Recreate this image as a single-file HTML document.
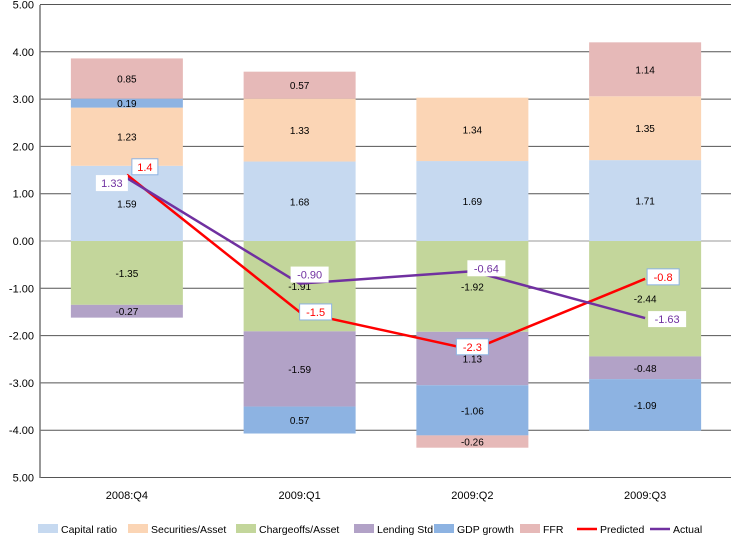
<!DOCTYPE html>
<html><head><meta charset="utf-8"><style>
body{margin:0;background:#fff;}
svg{display:block;font-family:"Liberation Sans",sans-serif;}
</style></head><body>
<svg id="c" width="731" height="535"></svg>
<script>
const categories=["2008:Q4","2009:Q1","2009:Q2","2009:Q3"];
const seriesNames=["Capital ratio","Securities/Asset","Chargeoffs/Asset","Lending Std","GDP growth","FFR"];
const capitalRatio=[1.59,1.68,1.69,1.71];
const securitiesAsset=[1.23,1.33,1.34,1.35];
const chargeoffsAsset=[-1.35,-1.91,-1.92,-2.44];
const lendingStd=[-0.27,-1.59,-1.13,-0.48];
const gdpGrowth=[0.19,-0.57,-1.06,-1.09];
const ffr=[0.85,0.57,-0.26,1.14];
const segLabelsQ=[["1.59","1.23","-1.35","-0.27","0.19","0.85"],["1.68","1.33","-1.91","-1.59","0.57","0.57"],["1.69","1.34","-1.92","1.13","-1.06","-0.26"],["1.71","1.35","-2.44","-0.48","-1.09","1.14"]];
const predicted=[1.4,-1.5,-2.3,-0.8];
const predictedLabels=["1.4","-1.5","-2.3","-0.8"];
const actual=[1.33,-0.90,-0.64,-1.63];
const actualLabels=["1.33","-0.90","-0.64","-1.63"];
const yTicks=[5,4,3,2,1,0,-1,-2,-3,-4,-5];
const yTickLabels=["5.00","4.00","3.00","2.00","1.00","0.00","-1.00","-2.00","-3.00","-4.00","5.00"];

const colors=["#c6d9f0","#fbd5b5","#c3d69b","#b2a2c7","#8db3e2","#e6b9b8"];
const NS="http://www.w3.org/2000/svg";
const svg=document.getElementById('c');
const L=40,R=731,T=5,B=478;
const y=v=>241-v*47.3;
const catW=(R-L)/4;
const xc=i=>L+catW*(i+0.5)+0.5;
const bw=112;
function el(t,a,p){const e=document.createElementNS(NS,t);for(const k in a)e.setAttribute(k,a[k]);(p||svg).appendChild(e);return e;}

// grid
yTicks.forEach((v,i)=>{
  const g=el('line',{x1:L,x2:R,y1:y(v),y2:y(v),stroke:v===0?'#999':'#555','stroke-width':1});
  
  
  const t=el('text',{x:34,y:y(v)+4,'text-anchor':'end','font-size':11,fill:'#000'});
  t.textContent=yTickLabels[i];
  
  
});
const ax=el('line',{x1:L,x2:L,y1:T,y2:B,stroke:'#777','stroke-width':1.5});



const all=[capitalRatio,securitiesAsset,chargeoffsAsset,lendingStd,gdpGrowth,ffr];
categories.forEach((c,i)=>{
  let pos=0,neg=0;
  all.forEach((s,k)=>{
    const v=s[i];let y0,y1;
    if(v>=0){y0=pos;y1=pos+v;pos=y1;}else{y0=neg;y1=neg+v;neg=y1;}
    const top=Math.min(y(y0),y(y1)),h=Math.abs(y(y0)-y(y1));
    const r=el('rect',{x:xc(i)-bw/2,y:top,width:bw,height:h,fill:colors[k]});
    
    
    const t=el('text',{x:xc(i),y:top+h/2+4,'text-anchor':'middle','font-size':10,fill:'#000'});
    t.textContent=segLabelsQ[i][k];
    
    
  });
  const t=el('text',{x:xc(i),y:499,'text-anchor':'middle','font-size':11,fill:'#000'});
  t.textContent=c;
  
  
});

function line(vals,col,name){
  const p=el('polyline',{points:vals.map((v,i)=>xc(i)+','+y(v)).join(' '),fill:'none',stroke:col,'stroke-width':2.5});
  
  
}
line(predicted,'#ff0000','predicted-line');
line(actual,'#7030a0','actual-line');
const pOff=[[18,-8],[16,0],[0,-3],[18,-2]];
const aOff=[[-15,5],[10,-9],[14,-3],[22,1]];
function labels(vals,labs,off,col,border,name){
  vals.forEach((v,i)=>{
    const cx=xc(i)+off[i][0],cy=y(v)+off[i][1];
    const w=labs[i].length*6+8;
    const r=el('rect',{x:cx-w/2,y:cy-8,width:w,height:16,fill:'#fff',stroke:border,'stroke-width':1});
    
    
    const t=el('text',{x:cx,y:cy+4,'text-anchor':'middle','font-size':11,fill:col});
    t.textContent=labs[i];
    
    
  });
}
labels(predicted,predictedLabels,pOff,'#ff0000','#8db3e2','predicted-label');
labels(actual,actualLabels,aOff,'#7030a0','none','actual-label');

// legend
const leg=[["Capital ratio",38],["Securities/Asset",128],["Chargeoffs/Asset",236],["Lending Std",354],["GDP growth",434],["FFR",520]];
leg.forEach((d,k)=>{
  const r=el('rect',{x:d[1],y:524,width:20,height:9,fill:colors[k]});
  
  
  const t=el('text',{x:d[1]+23,y:533,'font-size':10.5,fill:'#000'});
  t.textContent=d[0];
  
  
});
[["Predicted",577,'#ff0000'],["Actual",650,'#7030a0']].forEach(d=>{
  const l=el('line',{x1:d[1],x2:d[1]+20,y1:529,y2:529,stroke:d[2],'stroke-width':2.5});
  
  
  const t=el('text',{x:d[1]+23,y:533,'font-size':10.5,fill:'#000'});
  t.textContent=d[0];
  
  
});
</script>
</body></html>
